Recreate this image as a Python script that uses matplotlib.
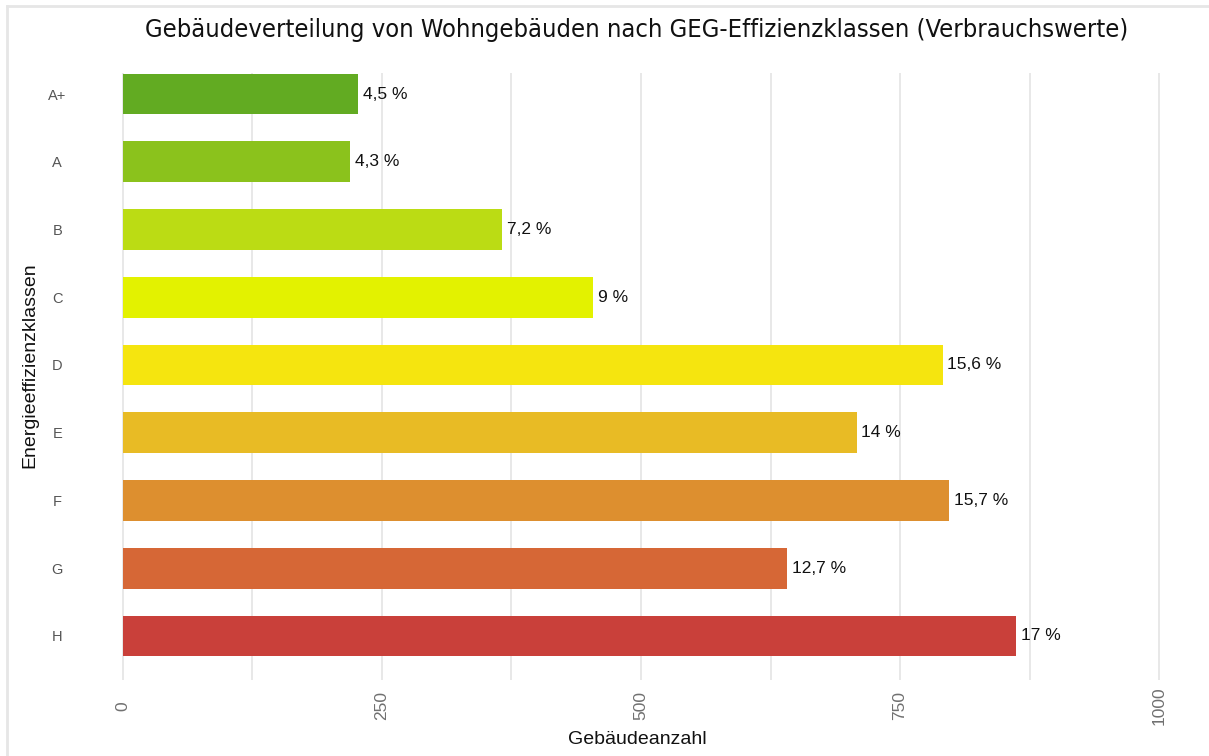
import matplotlib
matplotlib.use("Agg")
import matplotlib.pyplot as plt
from matplotlib.lines import Line2D

classes = ["A+", "A", "B", "C", "D", "E", "F", "G", "H"]
counts = [227, 219, 366, 454, 791, 708, 797, 641, 862]
labels = ["4,5 %", "4,3 %", "7,2 %", "9 %", "15,6 %", "14 %", "15,7 %", "12,7 %", "17 %"]
colors = ["#62ab22", "#8bc21c", "#bbdc14", "#e3f200", "#f5e50f",
          "#e8bb25", "#dd8f2f", "#d66736", "#c9403a"]
xticks = [0, 250, 500, 750, 1000]
minor_ticks = [125, 375, 625, 875]

plt.rcParams['font.family'] = ['Liberation Sans', 'DejaVu Sans']

W, H = 1209, 756
fig = plt.figure(figsize=(W / 100, H / 100), dpi=100)
ax = fig.add_axes([110 / W, 1 - 680 / H, (1195 - 110) / W, (680 - 73) / H])

ypos = list(range(len(classes)))
ax.barh(ypos, counts, height=0.6, color=colors, zorder=3)
for y, c, l in zip(ypos, counts, labels):
    ax.annotate(l, (c, y), xytext=(3.5, 0), textcoords="offset points",
                va="center", ha="left", fontsize=12.5, color="#111111", zorder=4)

ax.set_xlim(-12.5, 1034.7)
ax.set_ylim(8.65, -0.31)
ax.set_yticks(ypos)
ax.set_yticklabels(classes, fontsize=10.5, color="#555555")
ax.set_xticks(xticks)
ax.set_xticklabels([str(t) for t in xticks], rotation=90, fontsize=12.5,
                   color="#707070", va="center")
ax.set_xticks(minor_ticks, minor=True)
ax.tick_params(axis="both", which="both", length=0)
ax.tick_params(axis="y", pad=38)
ax.tick_params(axis="x", pad=18.5)
ax.grid(axis="x", which="both", color="#e6e6e6", linewidth=1.3, zorder=0)
for s in ax.spines.values():
    s.set_visible(False)
for t in ax.get_yticklabels():
    t.set_horizontalalignment("center")

ax.set_xlabel("Gebäudeanzahl", fontsize=14, color="#111111")
ax.xaxis.set_label_coords((637 - 110) / 1085, (680 - 740) / 607)
ax.xaxis.label.set_va("center")
ax.set_ylabel("Energieeffizienzklassen", fontsize=14, color="#111111")
ax.yaxis.set_label_coords((30 - 110) / 1085, (680 - 365) / 607)
ax.yaxis.label.set_va("center")

fig.text(637 / W, 1 - 30 / H,
         "Gebäudeverteilung von Wohngebäuden nach GEG-Effizienzklassen (Verbrauchswerte)",
         ha="center", va="center", fontsize=18.3, color="#111111",
         family=["DejaVu Sans"], fontstretch="condensed")

fig.add_artist(Line2D([7 / W, 1], [1 - 6 / H, 1 - 6 / H], color="#e6e6e6", linewidth=2))
fig.add_artist(Line2D([7 / W, 7 / W], [0, 1 - 6 / H], color="#e6e6e6", linewidth=2))

fig.savefig("out.png", dpi=100)
